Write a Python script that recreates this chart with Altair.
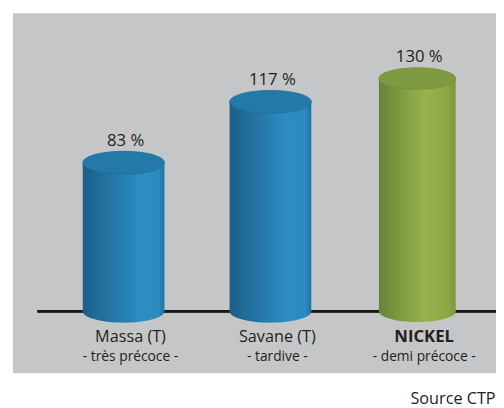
import altair as alt
import pandas as pd

categories = ["Massa (T)", "Savane (T)", "NICKEL"]
subtitles = ["- très précoce -", "- tardive -", "- demi précoce -"]
values = [83, 117, 130]
value_labels = ["83 %", "117 %", "130 %"]
highlight = "NICKEL"
source = "Source CTP"

df = pd.DataFrame({"cat": categories, "sub": subtitles, "v": values, "lab": value_labels})

FONT = "Open Sans"
W, H = 491, 366
ELLIPSE = "M-1,0A1,0.28,0,1,1,1,0A1,0.28,0,1,1,-1,0Z"

blue_grad = alt.Gradient(
    gradient="linear", x1=0, x2=1, y1=0, y2=0,
    stops=[
        alt.GradientStop(offset=0, color="#1b5f88"),
        alt.GradientStop(offset=0.25, color="#226f9d"),
        alt.GradientStop(offset=0.7, color="#2b8dc2"),
        alt.GradientStop(offset=0.93, color="#2b8bbf"),
        alt.GradientStop(offset=1, color="#22729f"),
    ],
)
green_grad = alt.Gradient(
    gradient="linear", x1=0, x2=1, y1=0, y2=0,
    stops=[
        alt.GradientStop(offset=0, color="#67843a"),
        alt.GradientStop(offset=0.25, color="#7a9940"),
        alt.GradientStop(offset=0.6, color="#98b24d"),
        alt.GradientStop(offset=0.9, color="#8ca746"),
        alt.GradientStop(offset=1, color="#7b963c"),
    ],
)

x = alt.X("cat:N", sort=categories, axis=None,
          scale=alt.Scale(type="point", range=[112.5, 411], padding=0))
yscale = alt.Scale(domain=[-34.6, 166.5], nice=False, zero=False)
y = alt.Y("v:Q", scale=yscale, axis=None)

base = alt.Chart(df)
is_hi = alt.datum.cat == highlight
not_hi = alt.datum.cat != highlight

axis_line = base.mark_rule(color="#1a1a1a", strokeWidth=2.5).encode(
    y=alt.Y(datum=0, scale=yscale, axis=None),
    x=alt.value(25), x2=alt.value(W),
)

def cylinder(flt, grad, top_fill, rim, width):
    b = base.transform_filter(flt)
    size = width * width
    bottom = b.mark_point(shape=ELLIPSE, filled=True, size=size, color=grad, opacity=1).encode(
        x=x, y=alt.Y(datum=0, scale=yscale, axis=None))
    body = b.mark_bar(size=width, color=grad).encode(
        x=x, y=y, y2=alt.Y2(datum=0))
    top = b.mark_point(shape=ELLIPSE, filled=True, size=size, fill=top_fill,
                       stroke=rim, strokeWidth=0.8, opacity=1).encode(x=x, y=y)
    return [bottom, body, top]

layers = [axis_line]
layers += cylinder(not_hi, blue_grad, "#2379a8", "#1f6d98", 83)
layers += cylinder(is_hi, green_grad, "#7f9a40", "#748f3a", 78)

vlabels = base.mark_text(font=FONT, fontSize=17, color="#231f20", dy=-17, dx=2,
                         baseline="alphabetic").encode(x=x, y=y, text="lab:N")
line1 = base.transform_filter(not_hi).mark_text(
    font=FONT, fontSize=16.5, color="#231f20", dx=7, baseline="alphabetic"
).encode(x=x, y=alt.value(334), text="cat:N")
line1b = base.transform_filter(is_hi).mark_text(
    font=FONT, fontSize=17, fontWeight="bold", color="#231f20", dx=7, baseline="alphabetic"
).encode(x=x, y=alt.value(334), text="cat:N")
line2 = base.mark_text(font=FONT, fontSize=14, color="#231f20", dx=7, baseline="alphabetic").encode(
    x=x, y=alt.value(353), text="sub:N")
src = alt.Chart(pd.DataFrame({"t": [source]})).mark_text(
    font=FONT, fontSize=16.5, color="#231f20", align="left", baseline="alphabetic"
).encode(x=alt.value(404), y=alt.value(397), text="t:N")

layers += [vlabels, line1, line1b, line2, src]

chart = alt.layer(*layers).properties(
    width=W, height=H, autosize="none",
    padding={"left": 5, "top": 2, "right": 0, "bottom": 32},
    background="white",
).configure_view(fill="#c5c6c8", stroke=None)

chart.save("out.html", embed_options={"renderer": "svg", "actions": False})
